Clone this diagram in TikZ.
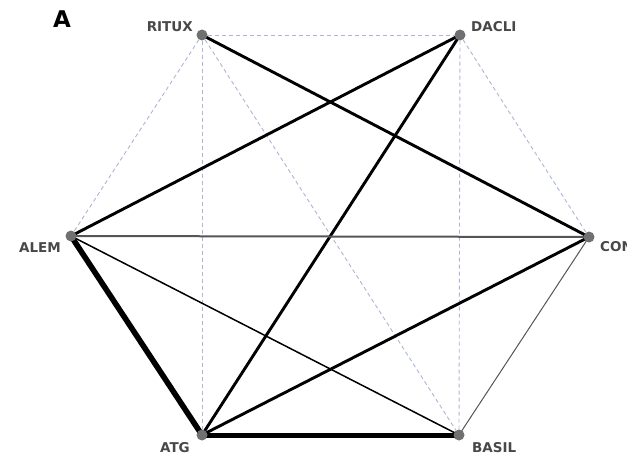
\documentclass[tikz,border=0pt]{standalone}
\usepackage{fontspec}
\setsansfont{DejaVu Sans}
\usetikzlibrary{backgrounds}
\definecolor{mydot}{RGB}{112,112,112}
\definecolor{mydash}{RGB}{172,182,212}
\definecolor{mylabel}{RGB}{72,72,72}
\definecolor{mythin}{RGB}{85,85,85}

\begin{document}
\begin{tikzpicture}[x=1pt,y=-1pt,
  vert/.style={circle,fill=mydot,inner sep=0pt,minimum size=11pt},
  lbl/.style={font=\sffamily\bfseries\fontsize{13.5}{13.5}\selectfont,text=mylabel,inner sep=0pt},
  weak/.style={mydash,line width=0.9pt,dash pattern=on 4pt off 3pt}]
\useasboundingbox (0,0) rectangle (627,455);

% vertices
\node[vert] (ritux) at (202,35) {};
\node[vert] (dacli) at (460,35) {};
\node[vert] (alem)  at (71,236) {};
\node[vert] (con)   at (589,237) {};
\node[vert] (atg)   at (202,435) {};
\node[vert] (basil) at (459,435) {};

% labels
\node[font=\sffamily\bfseries\fontsize{23}{23}\selectfont,inner sep=0pt] (panel) at (62,19) {A};
\node[lbl,anchor=east] (lritux) at (193,27) {RITUX};
\node[lbl,anchor=west] (ldacli) at (471,27) {DACLI};
\node[lbl,anchor=east] (lalem)  at (61,248) {ALEM};
\node[lbl,anchor=west] (lcon) at (600,247) {CON};
\node[lbl,anchor=east] (latg)   at (190,448) {ATG};
\node[lbl,anchor=west] (lbasil) at (472,448) {BASIL};

\begin{pgfonlayer}{background}
% non-significant comparisons
\foreach \a/\b in {ritux/dacli,ritux/alem,ritux/atg,ritux/basil,dacli/con,dacli/basil}{
  \draw[weak] (\a) -- (\b);
}
% direct comparisons
\foreach \a/\b/\w in {ritux/con/2.9,dacli/alem/2.9,dacli/atg/2.9,atg/con/2.9,alem/atg/5.6,atg/basil/5,alem/basil/1.5}{
  \draw[line width=\w pt] (\a.center) -- (\b.center);
}
\draw[mythin,line width=2pt] (alem.center) -- (con.center);
\draw[mythin,line width=1pt] (basil.center) -- (con.center);
\end{pgfonlayer}

\end{tikzpicture}
\end{document}
